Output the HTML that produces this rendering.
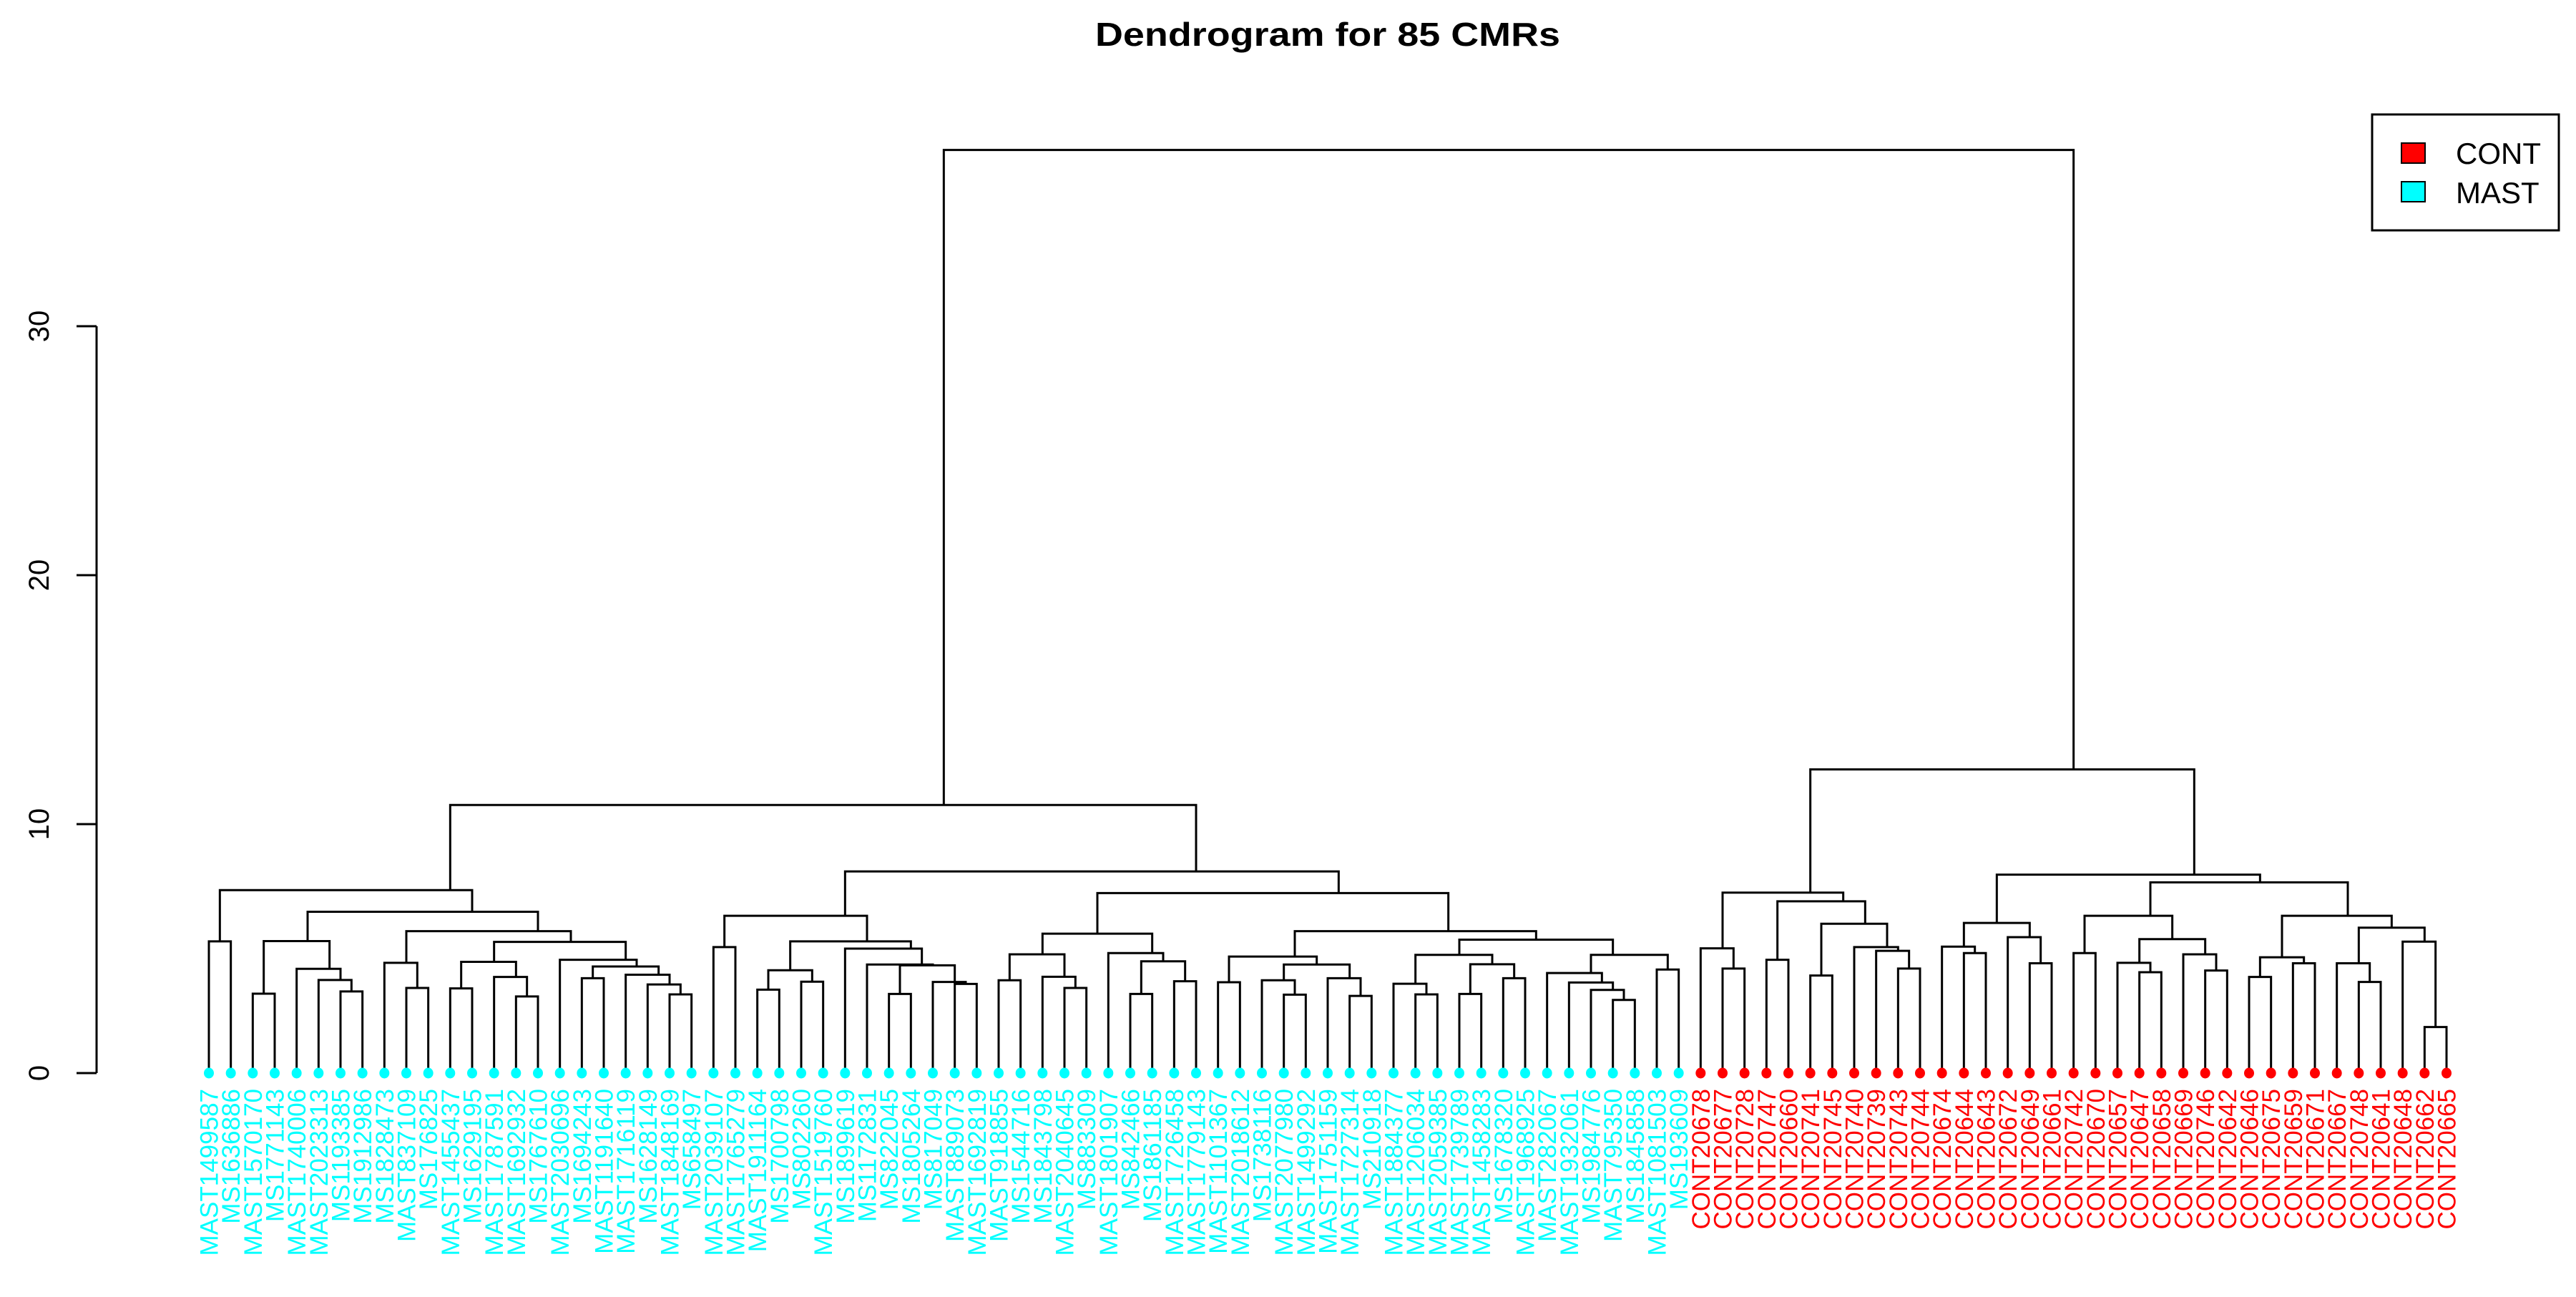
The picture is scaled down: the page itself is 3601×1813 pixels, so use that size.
<!DOCTYPE html>
<html>
<head>
<meta charset="utf-8">
<style>
html,body{margin:0;padding:0;background:#fff;}
svg{display:block;}
text{font-family:"Liberation Sans",Arial,sans-serif;}
</style>
</head>
<body>
<svg id="chart" width="3601" height="1813" viewBox="0 0 3601 1813" xmlns="http://www.w3.org/2000/svg">
  <rect x="0" y="0" width="3601" height="1813" fill="#fff"/>
  <text x="1856" y="64" text-anchor="middle" font-size="46" font-weight="bold" textLength="650" lengthAdjust="spacingAndGlyphs">Dendrogram for 85 CMRs</text>
  <g id="yaxis"></g>
  <g id="tree"></g>
  <g id="leaves"></g>
  <g id="labels"></g>
  <g>
    <rect x="3316" y="160" width="261" height="162" fill="#fff" stroke="#000" stroke-width="3"/>
    <rect x="3357" y="200" width="33" height="28" fill="#ff0000" stroke="#000" stroke-width="2"/>
    <text x="3433" y="229" font-size="42">CONT</text>
    <rect x="3357" y="254" width="33" height="28" fill="#00ffff" stroke="#000" stroke-width="2"/>
    <text x="3433" y="284" font-size="42">MAST</text>
  </g>
</svg>
<script>
// ---- data ----
const mastLabels = ["MAST1499587","MS1636886","MAST1570170","MS1771143","MAST1740006","MAST2023313","MS1193385","MS1912986","MS1828473","MAST837109","MS176825","MAST1455437","MS1629195","MAST1787591","MAST1692932","MS1767610","MAST2030696","MS1694243","MAST1191640","MAST1716119","MS1628149","MAST1848169","MS658497","MAST2039107","MAST1765279","MAST1911164","MS1700798","MS802260","MAST1519760","MS1899619","MS1172831","MS822045","MS1805264","MS817049","MAST889073","MAST1692819","MAST918855","MS1544716","MS1843798","MAST2040645","MS883309","MAST1801907","MS842466","MS1861185","MAST1726458","MAST1779143","MAST1101367","MAST2018612","MS1738116","MAST2077980","MAST1499292","MAST1751159","MAST1727314","MS210918","MAST1884377","MAST1206034","MAST2059385","MAST1739789","MAST1458283","MS1678320","MAST1968925","MAST282067","MAST1932061","MS1984776","MAST795350","MS1845858","MAST1081503","MS193609"];
const contLabels = ["CONT20678","CONT20677","CONT20728","CONT20747","CONT20660","CONT20741","CONT20745","CONT20740","CONT20739","CONT20743","CONT20744","CONT20674","CONT20644","CONT20643","CONT20672","CONT20649","CONT20661","CONT20742","CONT20670","CONT20657","CONT20647","CONT20658","CONT20669","CONT20746","CONT20642","CONT20646","CONT20675","CONT20659","CONT20671","CONT20667","CONT20748","CONT20641","CONT20648","CONT20662","CONT20665"];
const yTicks = [0,10,20,30];
// merge tree: [height, left, right]; integer = leaf index
const treeA = [7.35,[5.29,0,1],[6.48,[5.30,[3.19,2,3],[4.19,4,[3.74,5,[3.28,6,7]]]],[5.70,[4.43,8,[3.42,9,10]],[5.27,[4.47,[3.40,11,12],[3.86,13,[3.08,14,15]]],[4.55,16,[4.28,[3.81,17,18],[3.95,19,[3.56,20,[3.16,21,22]]]]]]]]];
const treeBleft = [6.32,[5.06,23,24],[5.29,[4.13,[3.35,25,26],[3.67,27,28]],[5.0,29,[4.36,30,[4.33,[3.18,31,32],[3.66,33,[3.58,34,35]]]]]]];
const treeBright = [7.23,[5.6,[4.77,[3.73,36,37],[3.87,38,[3.42,39,40]]],[4.82,41,[4.49,[3.18,42,43],[3.69,44,45]]]],[5.70,[4.68,[3.65,46,47],[4.36,[3.73,48,[3.15,49,50]],[3.81,51,[3.10,52,53]]]],[5.36,[4.75,[3.59,54,[3.16,55,56]],[4.37,[3.18,57,58],[3.81,59,60]]],[4.75,[4.02,61,[3.64,62,[3.34,63,[2.94,64,65]]]],[4.16,66,67]]]]];
const treeC1 = [7.25,[5.01,68,[4.2,69,70]],[6.9,[4.55,71,72],[6.0,[3.92,73,74],[5.06,75,[4.91,76,[4.2,77,78]]]]]];
const treeC2 = [7.97,[6.03,[5.08,79,[4.82,80,81]],[5.46,82,[4.41,83,84]]],[7.66,[6.32,[4.82,85,86],[5.38,[4.43,87,[4.05,88,89]],[4.77,90,[4.12,91,92]]]],[6.32,[4.65,[3.86,93,94],[4.41,95,96]],[5.84,[4.41,97,[3.66,98,99]],[5.28,100,[1.85,101,102]]]]]];
const rootHeight = 37.08, mastHeight = 10.77, mastBHeight = 8.1, contHeight = 12.2;

// ---- scales ----
const NS = "http://www.w3.org/2000/svg";
const labels = mastLabels.concat(contLabels);
const nLeaves = labels.length;
const x0 = 292, x1 = 3420;
function xScale(i){ return x0 + i*(x1-x0)/(nLeaves-1); }
const yZero = 1500, yPerUnit = 34.8;
function yScale(h){ return yZero - h*yPerUnit; }

function mk(tag, attrs, parent){
  const e = document.createElementNS(NS, tag);
  for (const k in attrs) e.setAttribute(k, attrs[k]);
  parent.appendChild(e);
  return e;
}

// y axis
const yaxis = document.getElementById('yaxis');
const axLine = mk('line',{x1:135,y1:yScale(yTicks[0]),x2:135,y2:yScale(yTicks[yTicks.length-1]),stroke:'#000','stroke-width':3},yaxis);


yTicks.forEach(t=>{
  const tk = mk('line',{x1:107,y1:yScale(t),x2:135,y2:yScale(t),stroke:'#000','stroke-width':3},yaxis);
  
  
  const tx = mk('text',{x:0,y:0,'font-size':40,'text-anchor':'middle',transform:`translate(68,${yScale(t)}) rotate(-90)`},yaxis);
  tx.textContent = String(t);
  
  
});

// tree drawing
const treeG = document.getElementById('tree');
function range(node){
  if (typeof node === 'number') return [node,node];
  const a = range(node[1]), b = range(node[2]);
  return [Math.min(a[0],b[0]), Math.max(a[1],b[1])];
}
function pos(node){ const r = range(node); return (r[0]+r[1])/2; }
function ht(node){ return typeof node === 'number' ? 0 : node[0]; }
function drawNode(node){
  if (typeof node === 'number') return;
  const h = node[0];
  const xl = xScale(pos(node[1])), xr = xScale(pos(node[2]));
  const y = yScale(h);
  const p = mk('path',{d:`M${xl},${yScale(ht(node[1]))} V${y} H${xr} V${yScale(ht(node[2]))}`,fill:'none',stroke:'#000','stroke-width':3},treeG);
  
  
  drawNode(node[1]); drawNode(node[2]);
}
const treeB = [mastBHeight, treeBleft, treeBright];
const treeMast = [mastHeight, treeA, treeB];
const treeCont = [contHeight, treeC1, treeC2];
const root = [rootHeight, treeMast, treeCont];
drawNode(root);

// leaves & labels
const leavesG = document.getElementById('leaves');
const labelsG = document.getElementById('labels');
labels.forEach((lab,i)=>{
  const col = i < mastLabels.length ? '#00ffff' : '#ff0000';
  const x = xScale(i);
  const d = mk('ellipse',{cx:x,cy:yZero,rx:7,ry:7.5,fill:col},leavesG);
  
  
  const t = mk('text',{x:0,y:0,'font-size':35,'text-anchor':'end',fill:col,transform:`translate(${x+12.5},1522) rotate(-90)`},labelsG);
  t.textContent = lab;
  
  
});
</script>
</body>
</html>
